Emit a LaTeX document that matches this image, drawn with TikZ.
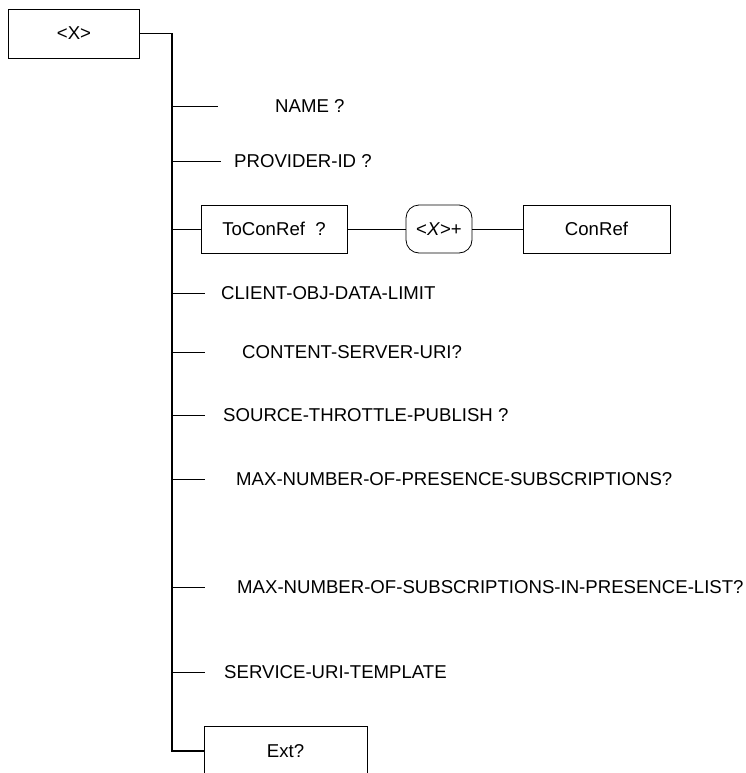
\documentclass[tikz,border=0pt]{standalone}
\usepackage{fontspec}
\setmainfont{Liberation Sans}
\begin{document}
\begin{tikzpicture}[x=1pt,y=-1pt,
  every node/.style={font=\fontsize{18.6}{22}\selectfont},
  sqbox/.style={draw, line width=0.8pt, inner sep=0pt},
  rbox/.style={draw, line width=0.8pt, inner sep=0pt, rounded corners=13pt},
  lbl/.style={anchor=west, inner sep=0pt},
  trunk/.style={line width=1.2pt},
  branch/.style={line width=0.8pt}]
\useasboundingbox (0,0) rectangle (746,773);
% root
\node[sqbox, minimum width=131pt, minimum height=49pt] (root) at (74,33.5) {<X>};
% trunk coordinates
\coordinate (t0) at (172,33.5);
\coordinate (tend) at (172,751);
% Ext box
\node[sqbox, minimum width=163pt, minimum height=50pt] (ext) at (285.5,751) {Ext?};
\draw[trunk] (root.east) -- (t0) -- (tend) -- (ext.west);
% branch points on trunk
\foreach \n/\y in {a/106, b/161, c/229, d/293, e/352, f/415, g/479, h/587, i/672}{
  \coordinate (s\n) at (172,\y);
}
% labels
\node[lbl] (name) at (275,106) {NAME ?};
\node[lbl] (prov) at (234,161) {PROVIDER-ID ?};
\node[lbl] (client) at (221,293) {CLIENT-OBJ-DATA-LIMIT};
\node[lbl] (content) at (242,352) {CONTENT-SERVER-URI?};
\node[lbl] (source) at (223,415) {SOURCE-THROTTLE-PUBLISH ?};
\node[lbl] (maxp) at (236,479) {MAX-NUMBER-OF-PRESENCE-SUBSCRIPTIONS?};
\node[lbl] (maxs) at (237,587) {MAX-NUMBER-OF-SUBSCRIPTIONS-IN-PRESENCE-LIST?};
\node[lbl] (serv) at (224,672) {SERVICE-URI-TEMPLATE};
% branch ends
\coordinate (ea) at (218,106);
\coordinate (eb) at (221,161);
\coordinate (ed) at (205,293);
\coordinate (ee) at (205,352);
\coordinate (ef) at (205,415);
\coordinate (eg) at (205,479);
\coordinate (eh) at (205,587);
\coordinate (ei) at (205,672);
\foreach \n in {a,b,d,e,f,g,h,i}{
  \draw[branch] (s\n) -- (e\n);
}
% ToConRef row
\node[sqbox, minimum width=146pt, minimum height=48pt] (tcr) at (274,229) {ToConRef\ \ ?};
\node[rbox, minimum width=66pt, minimum height=48pt] (xplus) at (439,229) {<\textit{X}>+};
\node[sqbox, minimum width=147pt, minimum height=48pt] (conref) at (596.5,229) {ConRef};
\draw[branch] (sc) -- (tcr.west);
\draw[branch] (tcr.east) -- (xplus.west);
\draw[branch] (xplus.east) -- (conref.west);
\end{tikzpicture}
\end{document}
